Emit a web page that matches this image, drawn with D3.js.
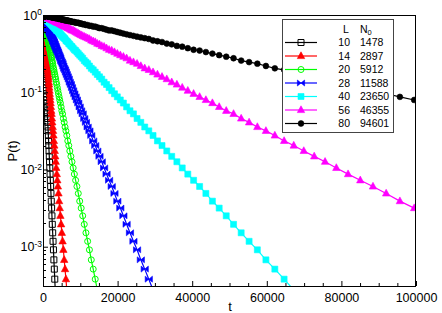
<!DOCTYPE html>
<html>
<head>
<meta charset="utf-8">
<script src="https://cdn.jsdelivr.net/npm/d3@7"></script>
<style>
body { margin: 0; background: #fff; }
svg { display: block; font-family: "Liberation Sans", Arial, sans-serif; }
</style>
</head>
<body>
<svg id="chart" width="442" height="313"></svg>
<script>
// legend columns
var sizes = [10, 14, 20, 28, 40, 56, 80];
var counts = [1478, 2897, 5912, 11588, 23650, 46355, 94601];
var colors = ['#000000', '#ff0000', '#00ff00', '#0000ff', '#00ffff', '#ff00ff', '#000000'];
var shapes = ['openSquare', 'triangle', 'openCircle', 'bowtie', 'square', 'triangle', 'dot'];

var xTicks = [0, 20000, 40000, 60000, 80000, 100000];
var yTicks = [1, 0.1, 0.01, 0.001];
var yExps = ['0', '-1', '-2', '-3'];

// sampling times (shared by all curves)
var times = [0, 100, 104, 108, 112, 117, 122, 127, 132, 137, 142,
	148, 154, 160, 167, 173, 180, 187, 195, 203, 211,
	219, 228, 237, 246, 256, 267, 277, 288, 300, 312,
	324, 337, 351, 365, 379, 395, 410, 427, 444, 462,
	480, 499, 519, 540, 562, 584, 607, 632, 657, 683,
	711, 739, 769, 799, 831, 865, 899, 935, 973, 1012,
	1052, 1094, 1138, 1183, 1231, 1280, 1331, 1384, 1440, 1497,
	1557, 1619, 1684, 1752, 1822, 1895, 1970, 2049, 2131, 2216,
	2305, 2397, 2493, 2593, 2697, 2804, 2917, 3033, 3155, 3281,
	3412, 3548, 3690, 3838, 3991, 4151, 4317, 4490, 4669, 4856,
	5050, 5253, 5463, 5681, 5908, 6145, 6390, 6646, 6912, 7188,
	7476, 7775, 8086, 8409, 8746, 9096, 9459, 9838, 10231, 10641,
	11066, 11509, 11969, 12448, 12946, 13464, 14002, 14562, 15145, 15751,
	16381, 17036, 17717, 18426, 19163, 19930, 20727, 21556, 22418, 23315,
	24248, 25217, 26226, 27275, 28366, 29501, 30681, 31908, 33184, 34512,
	35892, 37328, 38821, 40374, 41989, 43668, 45415, 47232, 49121, 51086,
	53129, 55254, 57465, 59763, 62154, 64640, 67226, 69915, 72711, 75620,
	78644, 81790, 85062, 88464, 92003, 95683, 99510, 103491];

// log10 P(t) for each L
var logP10 = [0,
	-0.11, -0.11, -0.12, -0.12, -0.13, -0.13, -0.14, -0.14, -0.15, -0.15,
	-0.16, -0.17, -0.17, -0.18, -0.19, -0.2, -0.2, -0.21, -0.22, -0.23,
	-0.24, -0.25, -0.26, -0.27, -0.28, -0.29, -0.3, -0.31, -0.33, -0.34,
	-0.35, -0.37, -0.38, -0.4, -0.41, -0.43, -0.45, -0.46, -0.48, -0.5,
	-0.52, -0.54, -0.56, -0.59, -0.61, -0.63, -0.66, -0.69, -0.71, -0.74,
	-0.77, -0.8, -0.83, -0.87, -0.9, -0.94, -0.98, -1.02, -1.06, -1.1,
	-1.14, -1.19, -1.24, -1.28, -1.34, -1.39, -1.45, -1.5, -1.56, -1.63,
	-1.69, -1.76, -1.83, -1.9, -1.98, -2.06, -2.14, -2.22, -2.31, -2.41,
	-2.5, -2.6, -2.71, -2.82, -2.93, -3.04, -3.17, -3.29, -3.42, -3.56];

var logP14 = [0,
	-0.06, -0.06, -0.06, -0.06, -0.07, -0.07, -0.07, -0.07, -0.08, -0.08, -0.08,
	-0.09, -0.09, -0.09, -0.1, -0.1, -0.1,
	-0.11, -0.11, -0.12, -0.12, -0.13, -0.13, -0.14, -0.14, -0.15, -0.15,
	-0.16, -0.17, -0.17, -0.18, -0.19, -0.2, -0.2, -0.21, -0.22, -0.23,
	-0.24, -0.25, -0.26, -0.27, -0.28, -0.29, -0.3, -0.31, -0.33, -0.34,
	-0.35, -0.37, -0.38, -0.4, -0.41, -0.43, -0.45, -0.46, -0.48, -0.5,
	-0.52, -0.54, -0.56, -0.59, -0.61, -0.63, -0.66, -0.69, -0.71, -0.74,
	-0.77, -0.8, -0.83, -0.87, -0.9, -0.94, -0.98, -1.02, -1.06, -1.1,
	-1.14, -1.19, -1.24, -1.28, -1.34, -1.39, -1.45, -1.5, -1.56, -1.63,
	-1.69, -1.76, -1.83, -1.9, -1.98, -2.06, -2.14, -2.22, -2.31, -2.41,
	-2.5, -2.6, -2.71, -2.82, -2.93, -3.04, -3.17, -3.29, -3.42, -3.56];

var logP20 = [0,
	-0.02,
	-0.03, -0.03, -0.03, -0.03, -0.03, -0.03, -0.03, -0.03, -0.03,
	-0.04, -0.04, -0.04, -0.04, -0.04, -0.04,
	-0.05, -0.05, -0.05, -0.05, -0.05,
	-0.06, -0.06, -0.06, -0.06, -0.07, -0.07, -0.07, -0.07,
	-0.08, -0.08, -0.08, -0.09, -0.09, -0.09, -0.1, -0.1, -0.1,
	-0.11, -0.11, -0.12, -0.12, -0.13, -0.13, -0.14, -0.14, -0.15, -0.15,
	-0.16, -0.17, -0.17, -0.18, -0.19, -0.2, -0.2, -0.21, -0.22, -0.23,
	-0.24, -0.25, -0.26, -0.27, -0.28, -0.29, -0.3, -0.31, -0.33, -0.34,
	-0.35, -0.37, -0.38, -0.4, -0.41, -0.43, -0.45, -0.46, -0.48, -0.5,
	-0.52, -0.54, -0.56, -0.59, -0.61, -0.63, -0.66, -0.69, -0.71, -0.74,
	-0.77, -0.8, -0.83, -0.87, -0.9, -0.94, -0.98, -1.02, -1.06, -1.1,
	-1.14, -1.19, -1.24, -1.28, -1.34, -1.39, -1.45, -1.5, -1.56, -1.63,
	-1.69, -1.76, -1.83, -1.9, -1.98, -2.06, -2.14, -2.22, -2.31, -2.41,
	-2.5, -2.6, -2.71, -2.82, -2.93, -3.04, -3.17, -3.29, -3.42, -3.56];

var logP28 = [0,
	-0.01, -0.01, -0.01, -0.01, -0.01, -0.01,
	-0.02, -0.02, -0.02, -0.02, -0.02, -0.02, -0.02, -0.02, -0.02, -0.02, -0.02, -0.02, -0.02,
	-0.03, -0.03, -0.03, -0.03, -0.03, -0.03, -0.03, -0.03, -0.03,
	-0.04, -0.04, -0.04, -0.04, -0.04, -0.04,
	-0.05, -0.05, -0.05, -0.05, -0.05,
	-0.06, -0.06, -0.06, -0.06, -0.07, -0.07, -0.07, -0.07,
	-0.08, -0.08, -0.08, -0.09, -0.09, -0.09, -0.1, -0.1, -0.1,
	-0.11, -0.11, -0.12, -0.12, -0.13, -0.13, -0.14, -0.14, -0.15, -0.15,
	-0.16, -0.17, -0.17, -0.18, -0.19, -0.2, -0.2, -0.21, -0.22, -0.23,
	-0.24, -0.25, -0.26, -0.27, -0.28, -0.29, -0.3, -0.31, -0.33, -0.34,
	-0.35, -0.37, -0.38, -0.4, -0.41, -0.43, -0.45, -0.46, -0.48, -0.5,
	-0.52, -0.54, -0.56, -0.59, -0.61, -0.63, -0.66, -0.69, -0.71, -0.74,
	-0.77, -0.8, -0.83, -0.87, -0.9, -0.94, -0.98, -1.02, -1.06, -1.1,
	-1.14, -1.19, -1.24, -1.28, -1.34, -1.39, -1.45, -1.5, -1.56, -1.63,
	-1.69, -1.76, -1.83, -1.9, -1.98, -2.06, -2.14, -2.22, -2.31, -2.41,
	-2.5, -2.6, -2.71, -2.82, -2.93, -3.04, -3.17, -3.29, -3.42, -3.56];

var logP40 = [0,
	-0.01, -0.01, -0.01, -0.01, -0.01, -0.01, -0.01, -0.01, -0.01, -0.01,
	-0.01, -0.01, -0.01, -0.01, -0.01, -0.01, -0.01, -0.01, -0.01, -0.01,
	-0.01, -0.01, -0.01, -0.01, -0.01, -0.01, -0.01,
	-0.02, -0.02, -0.02, -0.02, -0.02, -0.02, -0.02, -0.02, -0.02, -0.02, -0.02, -0.02, -0.02,
	-0.03, -0.03, -0.03, -0.03, -0.03, -0.03, -0.03, -0.03, -0.03,
	-0.04, -0.04, -0.04, -0.04, -0.04, -0.04,
	-0.05, -0.05, -0.05, -0.05, -0.05,
	-0.06, -0.06, -0.06, -0.06, -0.07, -0.07, -0.07, -0.07,
	-0.08, -0.08, -0.08, -0.09, -0.09, -0.09, -0.1, -0.1, -0.1,
	-0.11, -0.11, -0.12, -0.12, -0.13, -0.13, -0.14, -0.14, -0.15, -0.15,
	-0.16, -0.17, -0.17, -0.18, -0.19, -0.2, -0.2, -0.21, -0.22, -0.23,
	-0.24, -0.25, -0.26, -0.27, -0.28, -0.29, -0.3, -0.31, -0.33, -0.34,
	-0.35, -0.37, -0.38, -0.4, -0.41, -0.43, -0.45, -0.46, -0.48, -0.5,
	-0.52, -0.54, -0.56, -0.59, -0.61, -0.63, -0.66, -0.69, -0.71, -0.74,
	-0.77, -0.8, -0.83, -0.87, -0.9, -0.94, -0.98, -1.02, -1.06, -1.1,
	-1.14, -1.19, -1.24, -1.28, -1.34, -1.39, -1.45, -1.5, -1.56, -1.63,
	-1.69, -1.76, -1.83, -1.9, -1.98, -2.06, -2.14, -2.22, -2.31, -2.41,
	-2.5, -2.6, -2.71, -2.82, -2.93, -3.04, -3.17, -3.29, -3.42, -3.56];

var logP56 = [0,
	0, 0, 0, 0, 0, 0, 0, 0, 0, 0, 0, 0, 0, 0, 0, 0, 0, 0,
	-0.01, -0.01, -0.01, -0.01, -0.01, -0.01, -0.01, -0.01, -0.01, -0.01,
	-0.01, -0.01, -0.01, -0.01, -0.01, -0.01, -0.01, -0.01, -0.01, -0.01,
	-0.01, -0.01, -0.01, -0.01, -0.01, -0.01, -0.01, -0.01,
	-0.02, -0.02, -0.02, -0.02, -0.02, -0.02, -0.02, -0.02, -0.02, -0.02, -0.02, -0.02, -0.02,
	-0.03, -0.03, -0.03, -0.03, -0.03, -0.03, -0.03, -0.03, -0.03,
	-0.04, -0.04, -0.04, -0.04, -0.04, -0.04,
	-0.05, -0.05, -0.05, -0.05, -0.05,
	-0.06, -0.06, -0.06, -0.06, -0.07, -0.07, -0.07, -0.07,
	-0.08, -0.08, -0.08, -0.09, -0.09, -0.09, -0.1, -0.1, -0.1,
	-0.11, -0.11, -0.12, -0.12, -0.13, -0.13, -0.14, -0.14, -0.15, -0.15,
	-0.16, -0.17, -0.17, -0.18, -0.19, -0.2, -0.2, -0.21, -0.22, -0.23,
	-0.24, -0.25, -0.26, -0.27, -0.28, -0.29, -0.3, -0.31, -0.33, -0.34,
	-0.35, -0.37, -0.38, -0.4, -0.41, -0.43, -0.45, -0.46, -0.48, -0.5,
	-0.52, -0.54, -0.56, -0.59, -0.61, -0.63, -0.66, -0.69, -0.71, -0.74,
	-0.77, -0.8, -0.83, -0.87, -0.9, -0.94, -0.98, -1.02, -1.06, -1.1,
	-1.14, -1.19, -1.24, -1.28, -1.34, -1.39, -1.45, -1.5, -1.56, -1.63,
	-1.69, -1.76, -1.83, -1.9, -1.98, -2.06, -2.14, -2.22, -2.31, -2.41,
	-2.5, -2.6];

var logP80 = [0,
	0, 0, 0, 0, 0, 0, 0, 0, 0, 0, 0, 0, 0, 0, 0, 0, 0, 0, 0, 0,
	0, 0, 0, 0, 0, 0, 0, 0, 0, 0, 0, 0, 0, 0, 0, 0, 0, 0, 0,
	-0.01, -0.01, -0.01, -0.01, -0.01, -0.01, -0.01, -0.01, -0.01, -0.01,
	-0.01, -0.01, -0.01, -0.01, -0.01, -0.01, -0.01, -0.01, -0.01, -0.01,
	-0.01, -0.01, -0.01, -0.01, -0.01, -0.01, -0.01, -0.01,
	-0.02, -0.02, -0.02, -0.02, -0.02, -0.02, -0.02, -0.02, -0.02, -0.02, -0.02, -0.02, -0.02,
	-0.03, -0.03, -0.03, -0.03, -0.03, -0.03, -0.03, -0.03, -0.03,
	-0.04, -0.04, -0.04, -0.04, -0.04, -0.04,
	-0.05, -0.05, -0.05, -0.05, -0.05,
	-0.06, -0.06, -0.06, -0.06, -0.07, -0.07, -0.07, -0.07,
	-0.08, -0.08, -0.08, -0.09, -0.09, -0.09, -0.1, -0.1, -0.1,
	-0.11, -0.11, -0.12, -0.12, -0.13, -0.13, -0.14, -0.14, -0.15, -0.15,
	-0.16, -0.17, -0.17, -0.18, -0.19, -0.2, -0.2, -0.21, -0.22, -0.23,
	-0.24, -0.25, -0.26, -0.27, -0.28, -0.29, -0.3, -0.31, -0.33, -0.34,
	-0.35, -0.37, -0.38, -0.4, -0.41, -0.43, -0.45, -0.46, -0.48, -0.5,
	-0.52, -0.54, -0.56, -0.59, -0.61, -0.63, -0.66, -0.69, -0.71, -0.74,
	-0.77, -0.8, -0.83, -0.87, -0.9, -0.94, -0.98, -1.02, -1.06, -1.1,
	-1.14];

var curves = [logP10, logP14, logP20, logP28, logP40, logP56, logP80];

(function() {
	var svg = d3.select('#chart');
	var left = 43, right = 416, plotTop = 15, bottom = 286;

	var x = d3.scaleLinear().domain([0, 100000]).range([left, right]);
	var y = d3.scaleLog().domain([3.1e-4, 1]).range([bottom, plotTop]);
	var yMin = y.domain()[0];

	svg.append('clipPath').attr('id', 'plotArea')
		.append('rect').attr('x', left).attr('y', plotTop)
		.attr('width', right - left).attr('height', bottom - plotTop);

	// marker shapes
	var shapePaths = {
		openSquare: 'M-3,-3H3V3H-3Z',
		square: 'M-3,-3H3V3H-3Z',
		triangle: 'M0,-4.2L3.7,2.6H-3.7Z',
		openCircle: 'M3,0A3,3 0 1,1 -3,0A3,3 0 1,1 3,0',
		bowtie: 'M-3.6,-3L3.6,3V-3L-3.6,3Z',
		dot: 'M2.9,0A2.9,2.9 0 1,1 -2.9,0A2.9,2.9 0 1,1 2.9,0'
	};
	function styleMarker(sel, shape, color) {
		var open = shape === 'openSquare' || shape === 'openCircle';
		sel.attr('d', shapePaths[shape])
			.attr('fill', open ? 'none' : color)
			.attr('stroke', color)
			.attr('stroke-width', open ? 1 : 0.6);
	}

	var line = d3.line()
		.x(function(d) { return x(d[0]); })
		.y(function(d) { return y(Math.pow(10, d[1])); });

	var plot = svg.append('g').attr('clip-path', 'url(#plotArea)');

	curves.forEach(function(vals, i) {
		var pts = vals.map(function(v, k) { return [times[k], v]; });
		var g = plot.append('g');
		g.append('path')
			.attr('d', line(pts))
			.attr('fill', 'none')
			.attr('stroke', colors[i])
			.attr('stroke-width', 1.2);
		g.selectAll('path.mk')
			.data(pts.filter(function(d) { return Math.pow(10, d[1]) >= yMin; }))
			.enter().append('path')
			.attr('class', 'mk')
			.attr('transform', function(d) { return 'translate(' + x(d[0]) + ',' + y(Math.pow(10, d[1])) + ')'; })
			.call(styleMarker, shapes[i], colors[i]);
	});

	// axes (ticks point inwards)
	var xAxis = svg.append('g')
		.attr('transform', 'translate(0,' + bottom + ')')
		.call(d3.axisBottom(x).tickValues(xTicks).tickSize(-5).tickPadding(7).tickFormat(d3.format('d')));
	xAxis.select('.domain').remove();
	xAxis.selectAll('text').attr('font-size', 12.5).attr('fill', '#000')
		.style('font-family', '"Liberation Sans", Arial, sans-serif');

	var xMinor = d3.range(0, 100001, 5000).filter(function(v) { return xTicks.indexOf(v) < 0; });
	svg.append('g').selectAll('line').data(xMinor).enter().append('line')
		.attr('x1', function(d) { return x(d) + 0.5; }).attr('x2', function(d) { return x(d) + 0.5; })
		.attr('y1', bottom).attr('y2', bottom - 3)
		.attr('stroke', '#000');

	var yAxis = svg.append('g')
		.attr('transform', 'translate(' + left + ',0)')
		.call(d3.axisLeft(y).tickValues(yTicks).tickSize(-5).tickFormat(''));
	yAxis.select('.domain').remove();

	var yMinor = [];
	[-4, -3, -2, -1].forEach(function(e) {
		for (var m = 2; m <= 9; m++) {
			var v = m * Math.pow(10, e);
			if (v >= yMin && v < 1) yMinor.push(v);
		}
	});
	svg.append('g').selectAll('line').data(yMinor).enter().append('line')
		.attr('x1', left).attr('x2', left + 3)
		.attr('y1', function(d) { return Math.round(y(d)) + 0.5; })
		.attr('y2', function(d) { return Math.round(y(d)) + 0.5; })
		.attr('stroke', '#000');

	var yLab = svg.append('g').selectAll('text').data(yTicks).enter().append('text')
		.attr('x', 42)
		.attr('y', function(d) { return y(d); })
		.attr('dy', '0.36em')
		.attr('text-anchor', 'end')
		.attr('font-size', 12.5);
	yLab.append('tspan').text('10');
	yLab.append('tspan').attr('dy', '-0.5em').attr('font-size', 8.5)
		.text(function(d, i) { return yExps[i]; });

	// frame
	svg.append('rect')
		.attr('x', left + 0.5).attr('y', plotTop + 0.5)
		.attr('width', right - left - 1).attr('height', bottom - plotTop)
		.attr('fill', 'none').attr('stroke', '#000');

	// axis titles
	svg.append('text').attr('x', 230).attr('y', 311).attr('text-anchor', 'middle')
		.attr('font-size', 13).text('t');
	svg.append('text').attr('transform', 'translate(17,151) rotate(-90)')
		.attr('text-anchor', 'middle').attr('font-size', 13).text('P(t)');

	// legend
	var lg = svg.append('g');
	lg.append('rect')
		.attr('x', 282.5).attr('y', 19.5).attr('width', 111).attr('height', 113)
		.attr('fill', '#fff').attr('stroke', '#444');
	lg.append('text').attr('x', 343).attr('y', 32.5).attr('font-size', 10.5).text('L');
	var nh = lg.append('text').attr('x', 360).attr('y', 32.5).attr('font-size', 10.5);
	nh.append('tspan').text('N');
	nh.append('tspan').attr('dy', '0.3em').attr('font-size', 7.5).text('0');

	sizes.forEach(function(s, i) {
		var base = 46 + i * 13.5;
		var cy = base - 3.5;
		lg.append('line').attr('x1', 285).attr('x2', 317).attr('y1', cy).attr('y2', cy)
			.attr('stroke', colors[i]).attr('stroke-width', 1.2);
		lg.append('path').attr('transform', 'translate(301,' + cy + ')')
			.call(styleMarker, shapes[i], colors[i]);
		lg.append('text').attr('x', 350).attr('y', base).attr('text-anchor', 'end')
			.attr('font-size', 10.5).text(s);
		lg.append('text').attr('x', 360).attr('y', base)
			.attr('font-size', 10.5).text(counts[i]);
	});
})();
</script>
</body>
</html>
